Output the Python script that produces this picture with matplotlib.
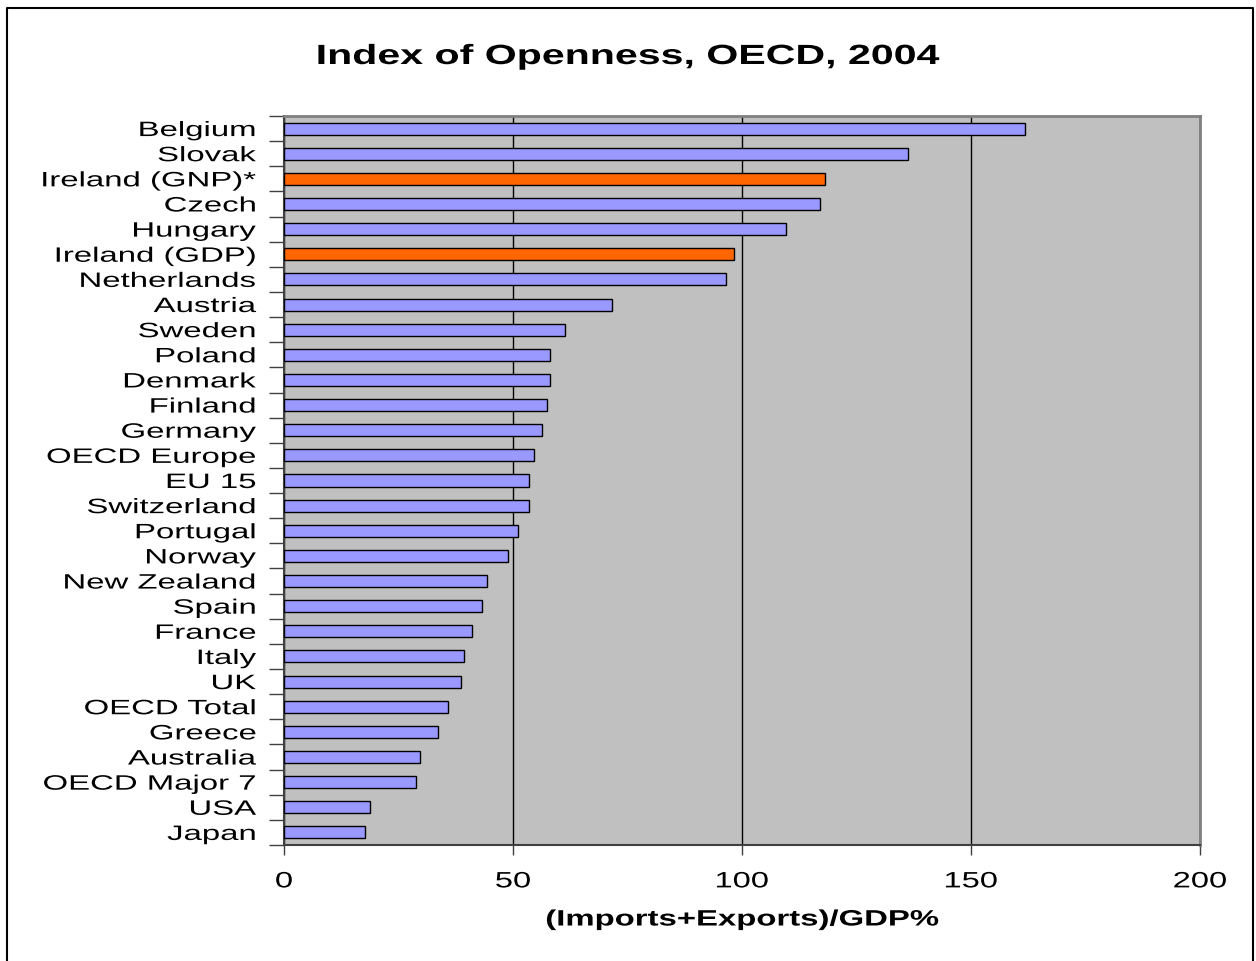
import matplotlib
matplotlib.use("Agg")
import matplotlib.pyplot as plt
from matplotlib.patheffects import AbstractPathEffect
from matplotlib.transforms import Affine2D
from matplotlib.lines import Line2D

countries = ["Belgium", "Slovak", "Ireland (GNP)*", "Czech", "Hungary", "Ireland (GDP)",
             "Netherlands", "Austria", "Sweden", "Poland", "Denmark", "Finland", "Germany",
             "OECD Europe", "EU 15", "Switzerland", "Portugal", "Norway", "New Zealand",
             "Spain", "France", "Italy", "UK", "OECD Total", "Greece", "Australia",
             "OECD Major 7", "USA", "Japan"]
openness = [161.8, 136.3, 118.1, 117.0, 109.5, 98.2, 96.5, 71.6, 61.4, 58.1, 58.1, 57.4,
            56.3, 54.6, 53.5, 53.5, 51.1, 48.9, 44.3, 43.2, 41.0, 39.3, 38.6, 35.8, 33.6,
            29.6, 28.9, 18.7, 17.6]
highlight = ["Ireland (GNP)*", "Ireland (GDP)"]
xticks = [0, 50, 100, 150, 200]

BLUE = "#9999FF"
ORANGE = "#FF6600"
BG = "#C0C0C0"


class Stretch(AbstractPathEffect):
    """Widen glyphs horizontally around an anchor (text stays real text)."""
    def __init__(self, sx, anchor="center"):
        super().__init__()
        self.sx = sx
        self.anchor = anchor

    def draw_path(self, renderer, gc, tpath, affine, rgbFace=None):
        ext = tpath.get_extents(affine)
        if self.anchor == "right":
            x0 = ext.x1
        elif self.anchor == "left":
            x0 = ext.x0
        else:
            x0 = 0.5 * (ext.x0 + ext.x1)
        t = affine + Affine2D().translate(-x0, 0).scale(self.sx, 1).translate(x0, 0)
        renderer.draw_path(gc, tpath, t, rgbFace)


plt.rcParams["font.family"] = ["Liberation Sans", "DejaVu Sans"]

W, H = 1256, 961
fig = plt.figure(figsize=(W / 100, H / 100), dpi=100)
L, R, T, B = 284, 1200, 116, 845
ax = fig.add_axes([L / W, 1 - B / H, (R - L) / W, (B - T) / H])
ax.set_facecolor(BG)

n = len(countries)
ypos = list(range(n))[::-1]
colors = [ORANGE if c in highlight else BLUE for c in countries]
ax.barh(ypos, openness, height=0.48, color=colors, edgecolor="black", linewidth=1.0, zorder=3)

ax.set_xlim(0, 200)
ax.set_ylim(-0.5, n - 0.5)
ax.set_xticks(xticks)
ax.set_xticklabels([str(v) for v in xticks])
ax.tick_params(axis="x", length=7, width=1, color="#404040", labelsize=16, pad=12)
ax.xaxis.grid(True, color="black", linewidth=1.0)
ax.set_axisbelow(True)

# boundaries ticks (major, unlabeled), labels at bar centers (minor, no tick mark)
ax.set_yticks([i - 0.5 for i in range(n + 1)])
ax.set_yticklabels([])
ax.tick_params(axis="y", which="major", length=11, width=1, color="#404040")
ax.set_yticks(ypos, minor=True)
ax.set_yticklabels(countries, minor=True)
ax.tick_params(axis="y", which="minor", length=0, labelsize=15, pad=20)

for s in ["top", "right"]:
    ax.spines[s].set_color("#808080")
    ax.spines[s].set_linewidth(2)
for s in ["left", "bottom"]:
    ax.spines[s].set_color("#404040")
    ax.spines[s].set_linewidth(1.5)

title = fig.text(0.5, 1 - 57 / H, "Index of Openness, OECD, 2004", ha="center", va="center",
                 fontsize=20, fontweight="bold")
title.set_path_effects([Stretch(1.48, "center")])
xl = fig.text(742 / W, 1 - 920 / H, "(Imports+Exports)/GDP%", ha="center", va="center",
              fontsize=16, fontweight="bold")
xl.set_path_effects([Stretch(1.48, "center")])

# figure border
fig.add_artist(Line2D([7 / W, 7 / W, 1253 / W, 1253 / W], [0, 1 - 8 / H, 1 - 8 / H, 0],
                      transform=fig.transFigure, color="black", linewidth=1.5))

fig.canvas.draw()
for t in ax.get_yticklabels(minor=True):
    t.set_path_effects([Stretch(1.58, "right")])
for t in ax.get_xticklabels():
    t.set_path_effects([Stretch(1.47, "center")])

fig.savefig("out.png", dpi=100)
